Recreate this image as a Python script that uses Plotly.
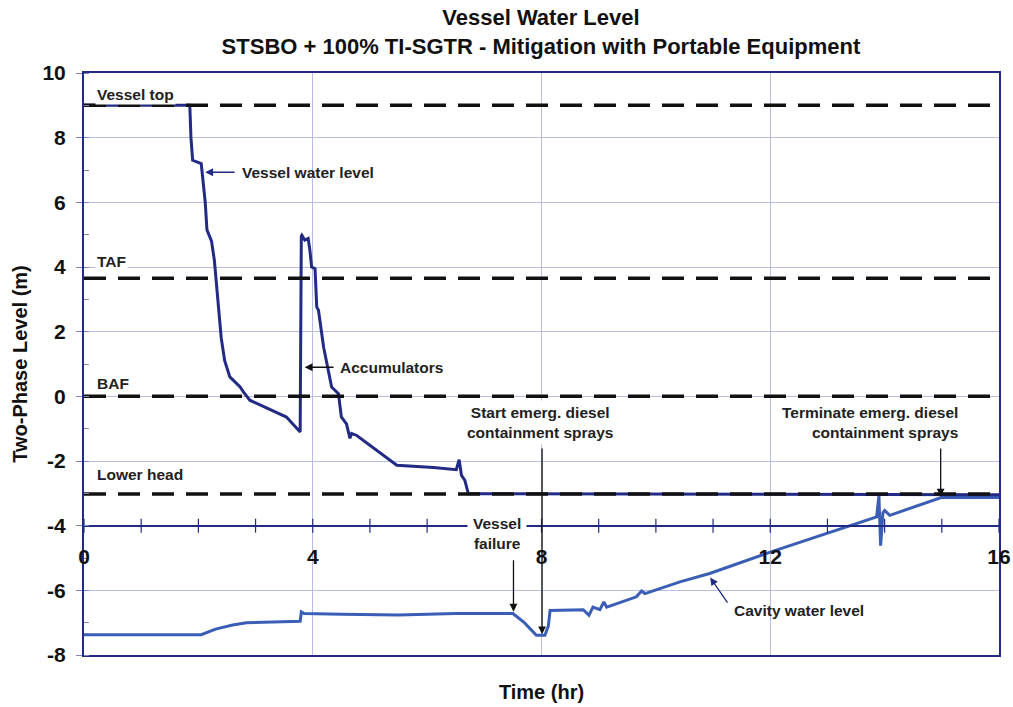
import plotly.graph_objects as go

# ---------------- data ----------------
vessel_t = [0, 1.85, 1.87, 1.90, 2.05, 2.09, 2.12, 2.15, 2.23, 2.28, 2.32, 2.36, 2.40, 2.46,
            2.55, 2.73, 2.79, 2.90, 3.54, 3.78, 3.80, 3.81, 3.86, 3.92, 3.95, 3.98, 4.04,
            4.07, 4.10, 4.19, 4.33, 4.45, 4.50, 4.59, 4.65, 4.68, 4.77, 5.47, 6.11, 6.51,
            6.56, 6.60, 6.66, 6.72, 16.0]
vessel_y = [9.0, 9.0, 8.0, 7.3, 7.2, 6.6, 6.0, 5.15, 4.8, 4.2, 3.5, 2.6, 1.8, 1.1,
            0.6, 0.29, 0.13, -0.12, -0.64, -1.1, 4.95, 4.98, 4.83, 4.88, 4.52, 4.0, 3.95,
            2.76, 2.66, 1.52, 0.29, 0.08, -0.64, -0.85, -1.3, -1.15, -1.21, -2.13, -2.2, -2.27,
            -1.96, -2.44, -2.6, -3.01, -3.04]

cavity_t = [0, 2.05, 2.3, 2.6, 2.84, 3.3, 3.78, 3.80, 3.85, 4.5, 5.5, 6.5, 7.5, 7.7,
            7.91, 8.06, 8.12, 8.15, 8.73, 8.83, 8.90, 9.02, 9.09, 9.14, 9.66, 9.75, 9.81,
            10.42, 10.94, 12.0, 13.86, 13.90, 13.93, 13.97, 14.0, 14.09, 14.99, 16.0]
cavity_y = [-7.37, -7.37, -7.2, -7.07, -7.0, -6.98, -6.96, -6.67, -6.72, -6.74, -6.76, -6.72,
            -6.72, -7.0, -7.39, -7.39, -7.1, -6.62, -6.6, -6.77, -6.52, -6.6, -6.36, -6.52,
            -6.2, -6.02, -6.1, -5.74, -5.48, -4.82, -3.73, -3.08, -4.62, -3.6, -3.53, -3.68,
            -3.13, -3.13]

ref_names = ["Vessel top", "TAF", "BAF", "Lower head"]
ref_levels = [9.0, 3.65, 0.0, -3.02]
ref_label_y = [9.35, 4.18, 0.4, -2.42]

x_major_ticks = [0, 4, 8, 12, 16]
x_tick_labels = ["0", "4", "8", "12", "16"]
x_minor_ticks = list(range(0, 17))
y_ticks = [-8, -6, -4, -2, 0, 2, 4, 6, 8, 10]
y_tick_labels = ["-8", "-6", "-4", "-2", "0", "2", "4", "6", "8", "10"]

title_text = ("Vessel Water Level<br>"
              "STSBO + 100% TI-SGTR - Mitigation with Portable Equipment")

NAVY = "#232a84"
CAVITY = "#3a5db5"
GRID = "#b9bde6"
TICKC = "#7f87c6"
FONT = "Liberation Sans, Arial, sans-serif"

fig = go.Figure()

fig.add_trace(go.Scatter(x=cavity_t, y=cavity_y, mode="lines",
                         line=dict(color=CAVITY, width=3), hoverinfo="skip",
                         showlegend=False))
fig.add_trace(go.Scatter(x=vessel_t, y=vessel_y, mode="lines",
                         line=dict(color=NAVY, width=3), hoverinfo="skip",
                         showlegend=False))

for lvl in ref_levels:
    fig.add_trace(go.Scatter(x=[0, 16], y=[lvl, lvl], mode="lines",
                             line=dict(color="#111111", width=3.5, dash="22px,12px"),
                             hoverinfo="skip", showlegend=False))

# minor ticks on the crossing time axis (y = -4), drawn on the crossing axis x2
fig.add_trace(go.Scatter(x=x_minor_ticks, y=[-4] * len(x_minor_ticks), mode="markers",
                         xaxis="x2", yaxis="y",
                         marker=dict(symbol="line-ns", size=10,
                                     line=dict(color=NAVY, width=1.2)),
                         hoverinfo="skip", showlegend=False, cliponaxis=False))

annots = []
lab_font = dict(family=FONT, size=15.5, color="#222222", weight="bold")
for name, ly in zip(ref_names, ref_label_y):
    annots.append(dict(x=0.19, y=ly, xref="x", yref="y", text=name, showarrow=False,
                       xanchor="left", yanchor="middle", font=lab_font,
                       bgcolor="white", borderpad=1))


def arrow(x0, y0, x1, y1, color="#111111"):
    return dict(x=x1, y=y1, ax=x0, ay=y0, xref="x", yref="y", axref="x", ayref="y",
                text="", showarrow=True, arrowhead=2, arrowsize=1.2, arrowwidth=1.3,
                arrowcolor=color, standoff=0, startstandoff=0)


annots += [
    dict(x=2.73, y=6.93, xref="x", yref="y", text="Vessel water level", showarrow=False,
         xanchor="left", yanchor="middle", font=lab_font),
    arrow(2.66, 6.93, 2.12, 6.93, NAVY),
    dict(x=4.44, y=0.9, xref="x", yref="y", text="Accumulators", showarrow=False,
         xanchor="left", yanchor="middle", font=lab_font),
    arrow(4.39, 0.9, 3.86, 0.9),
    dict(x=7.97, y=-0.8, xref="x", yref="y",
         text="Start emerg. diesel<br>containment sprays", showarrow=False,
         xanchor="center", yanchor="middle", align="center", font=lab_font,
         bgcolor="white", borderpad=3),
    arrow(8.01, -1.57, 8.01, -7.36),
    dict(x=7.22, y=-4.24, xref="x", yref="y", text="Vessel<br>failure", showarrow=False,
         xanchor="center", yanchor="middle", align="center", font=lab_font,
         bgcolor="white", borderpad=5),
    arrow(7.51, -5.02, 7.51, -6.66),
    dict(x=15.35, y=-0.8, xref="x", yref="y",
         text="Terminate emerg. diesel<br>containment sprays", showarrow=False,
         xanchor="right", yanchor="middle", align="right", font=lab_font,
         bgcolor="white", borderpad=3),
    arrow(14.98, -1.57, 14.98, -3.1),
    dict(x=11.33, y=-6.62, xref="x", yref="y", text="Cavity water level", showarrow=False,
         xanchor="left", yanchor="middle", font=lab_font),
    arrow(11.27, -6.43, 10.95, -5.6, NAVY),
]

fig.update_layout(
    width=1013, height=707,
    margin=dict(l=84, r=14, t=73, b=52),
    paper_bgcolor="white", plot_bgcolor="white",
    font=dict(family=FONT, color="#111111"),
    title=dict(text=title_text, x=0.534, xanchor="center", y=0.964, yanchor="middle",
               yref="container",
               font=dict(family=FONT, size=22, color="#111111", weight="bold")),
    annotations=annots,
    xaxis=dict(range=[0, 16], tickvals=x_major_ticks, showticklabels=False, ticks="",
               showgrid=True, gridcolor=GRID, gridwidth=1, zeroline=False,
               showline=True, linecolor=NAVY, linewidth=1.5, mirror=True,
               automargin=False,
               title=dict(text="Time (hr)", standoff=29,
                          font=dict(family=FONT, size=20, color="#111111", weight="bold"))),
    xaxis2=dict(range=[0, 16], overlaying="x", anchor="free", position=4 / 18,
                side="bottom", tickvals=x_major_ticks, ticktext=x_tick_labels,
                ticks="", showgrid=False,
                zeroline=False, showline=True, linecolor=NAVY, linewidth=1.5,
                ticklabelstandoff=12, automargin=False,
                tickfont=dict(family=FONT, size=21, color="#111111", weight="bold")),
    yaxis=dict(range=[-8, 10], tickvals=y_ticks, ticktext=y_tick_labels,
               ticks="outside", ticklen=6,
               tickcolor=TICKC, showgrid=True, gridcolor=GRID, gridwidth=1,
               zeroline=False, showline=True, linecolor=NAVY, linewidth=2, mirror=True,
               minor=dict(dtick=1, ticks="inside", ticklen=5, tickcolor=TICKC,
                          showgrid=False),
               ticklabelstandoff=6, automargin=False,
               tickfont=dict(family=FONT, size=21, color="#111111", weight="bold"),
               title=dict(text="Two-Phase Level (m)", standoff=9,
                          font=dict(family=FONT, size=20, color="#111111", weight="bold"))),
)

fig.write_html("out.html",
               config={"displayModeBar": False},
               post_script="document.body.style.margin='0';"
                           "document.body.style.overflow='hidden';")
